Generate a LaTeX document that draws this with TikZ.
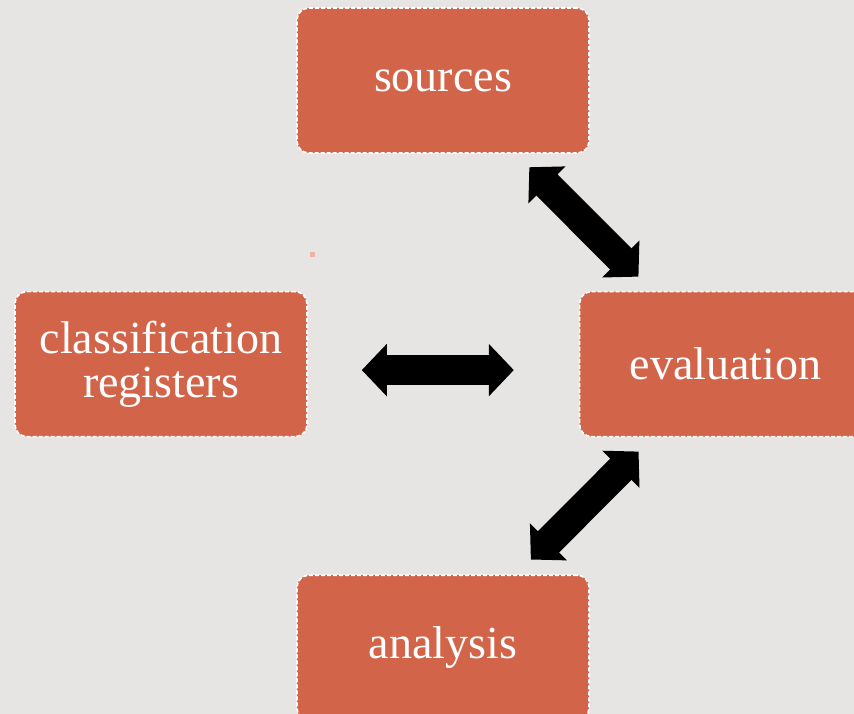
\documentclass[tikz,border=0pt]{standalone}
\usepackage{fontspec}
\setmainfont{Liberation Serif}
\usepackage{xcolor}
\usetikzlibrary{arrows.meta,positioning,calc}
\definecolor{cbg}{HTML}{E6E5E3}
\definecolor{cbox}{HTML}{D2644A}
\definecolor{cdot}{HTML}{EFB2A3}
\tikzset{
  card/.style={rectangle,rounded corners=12pt,fill=cbox,draw=white,line width=1.6pt,
               dash pattern=on 4pt off 2pt,minimum width=292pt,minimum height=145pt,
               align=center,text=white,font=\fontsize{46}{44}\selectfont},
  dblarrow/.style={draw=black,line width=30pt,
                   {Triangle[length=25pt,width=51pt]}-{Triangle[length=25pt,width=51pt]}},
}
\begin{document}
\begin{tikzpicture}[x=1pt,y=-1pt]
\clip (0,0) rectangle (854,714);
\fill[cbg] (0,0) rectangle (854,714);
\node[card] (sources) at (443,80.5) {sources};
\node[card,below right=137pt and -11pt of sources] (eval) {evaluation};
\node[card,left=271pt of eval] (classif) {classification\\registers};
\node[card,below left=137pt and -11pt of eval] (analysis) {analysis};
\fill[cdot] (309.5,252) rectangle (314.5,257);

\draw[dblarrow,shorten <=19pt,shorten >=20pt] (sources) -- (eval);
\draw[dblarrow,shorten <=20pt,shorten >=21pt] (eval) -- (analysis);
\draw[dblarrow,shorten <=54pt,shorten >=65pt] ([yshift=-6pt]classif.east) -- ([yshift=-6pt]eval.west);
\end{tikzpicture}
\end{document}
